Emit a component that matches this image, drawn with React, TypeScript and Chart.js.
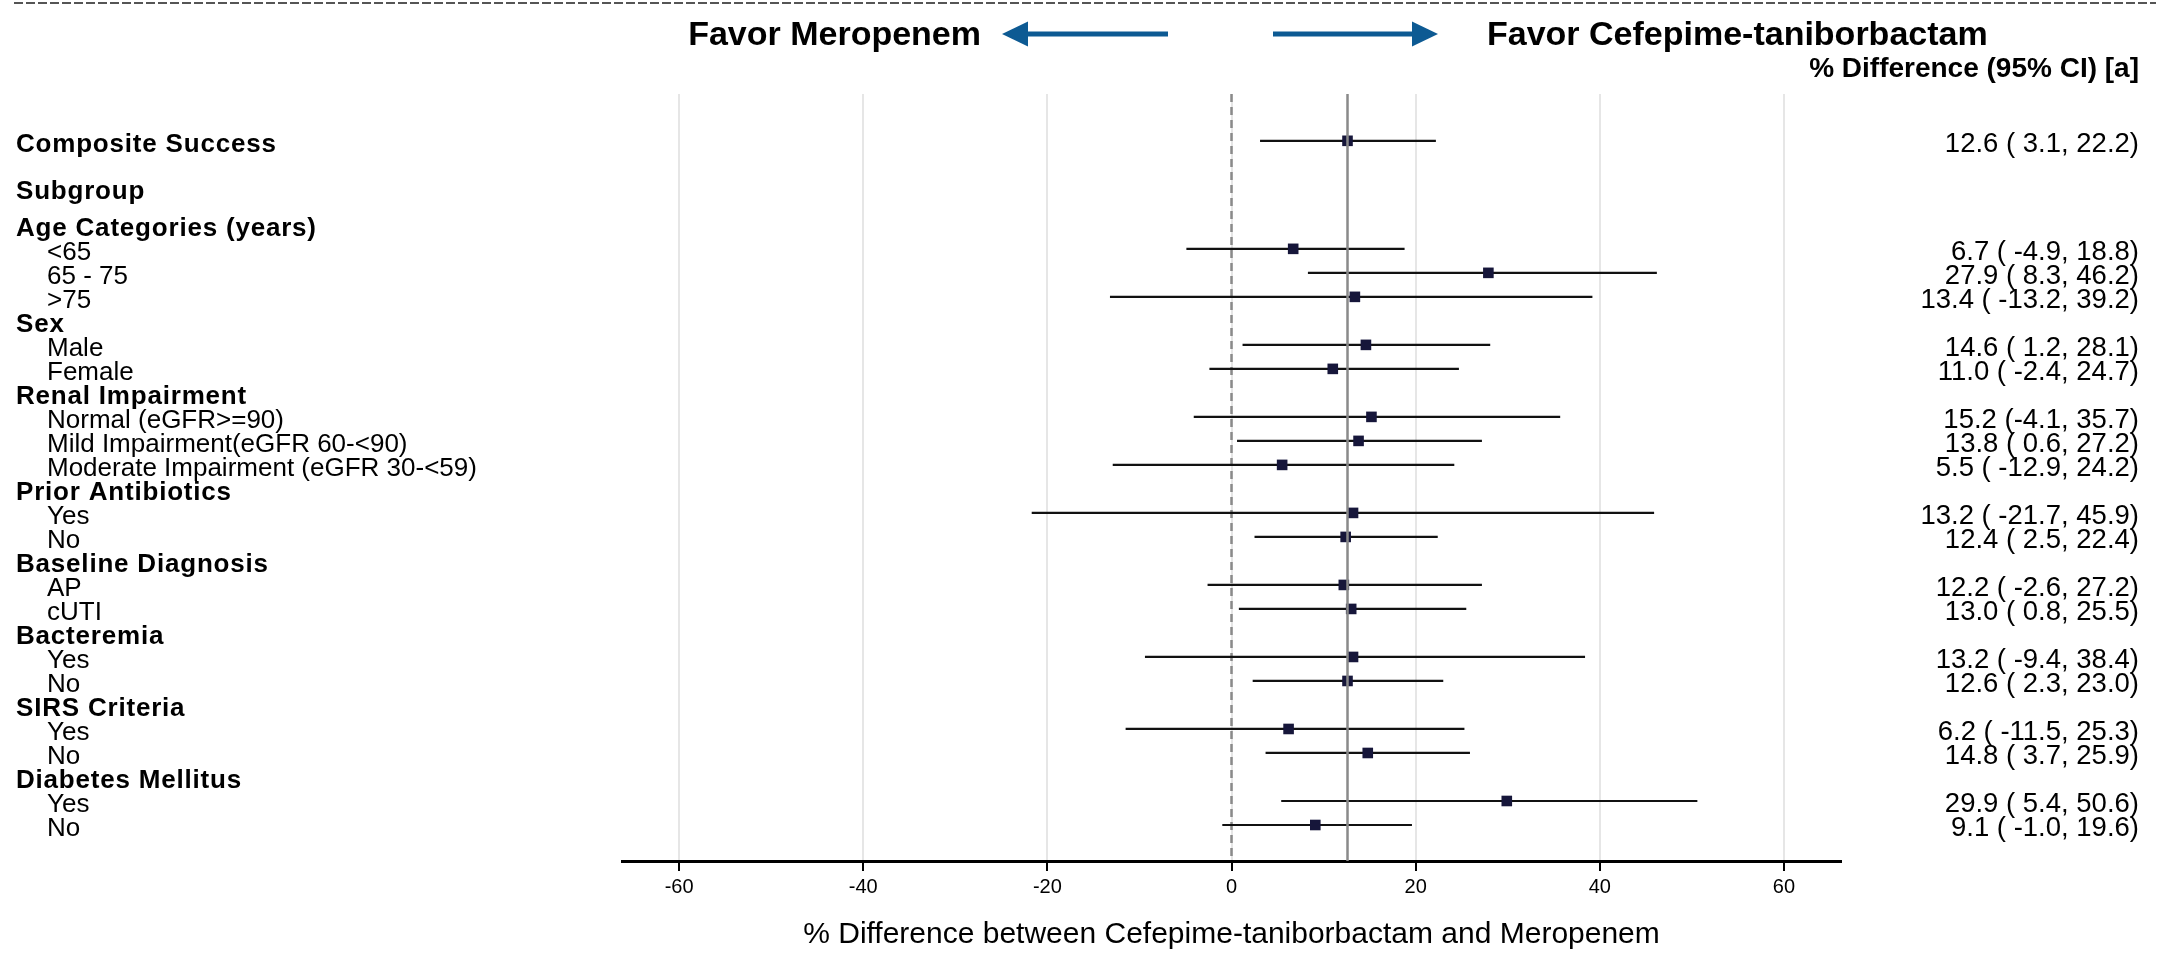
import React, { useEffect, useRef } from 'react';
import { Chart, registerables } from 'chart.js';

Chart.register(...registerables);

// ---------------- data ----------------
const rowLabels = [
  'Composite Success', 'Subgroup', 'Age Categories (years)', '<65', '65 - 75', '>75',
  'Sex', 'Male', 'Female', 'Renal Impairment', 'Normal (eGFR>=90)',
  'Mild Impairment(eGFR 60-<90)', 'Moderate Impairment (eGFR 30-<59)',
  'Prior Antibiotics', 'Yes', 'No', 'Baseline Diagnosis', 'AP', 'cUTI',
  'Bacteremia', 'Yes', 'No', 'SIRS Criteria', 'Yes', 'No',
  'Diabetes Mellitus', 'Yes', 'No',
];
const rowIsHeader = [
  true, true, true, false, false, false,
  true, false, false, true, false, false, false,
  true, false, false, true, false, false,
  true, false, false, true, false, false,
  true, false, false,
];
// position of each row on the (reversed) category axis
const rowPositions = [
  -3.5, -1.55, 0, 1, 2, 3, 4, 5, 6, 7, 8, 9, 10, 11, 12, 13, 14, 15, 16, 17, 18, 19, 20, 21, 22, 23, 24, 25,
];
const estimates = [
  12.6, null, null, 6.7, 27.9, 13.4, null, 14.6, 11.0, null, 15.2, 13.8, 5.5,
  null, 13.2, 12.4, null, 12.2, 13.0, null, 13.2, 12.6, null, 6.2, 14.8, null, 29.9, 9.1,
];
const lowerCI = [
  3.1, null, null, -4.9, 8.3, -13.2, null, 1.2, -2.4, null, -4.1, 0.6, -12.9,
  null, -21.7, 2.5, null, -2.6, 0.8, null, -9.4, 2.3, null, -11.5, 3.7, null, 5.4, -1.0,
];
const upperCI = [
  22.2, null, null, 18.8, 46.2, 39.2, null, 28.1, 24.7, null, 35.7, 27.2, 24.2,
  null, 45.9, 22.4, null, 27.2, 25.5, null, 38.4, 23.0, null, 25.3, 25.9, null, 50.6, 19.6,
];
const ciLabels = [
  '12.6 ( 3.1, 22.2)', '', '', '6.7 ( -4.9, 18.8)', '27.9 ( 8.3, 46.2)', '13.4 ( -13.2, 39.2)',
  '', '14.6 ( 1.2, 28.1)', '11.0 ( -2.4, 24.7)', '', '15.2 (-4.1, 35.7)', '13.8 ( 0.6, 27.2)',
  '5.5 ( -12.9, 24.2)', '', '13.2 ( -21.7, 45.9)', '12.4 ( 2.5, 22.4)', '', '12.2 ( -2.6, 27.2)',
  '13.0 ( 0.8, 25.5)', '', '13.2 ( -9.4, 38.4)', '12.6 ( 2.3, 23.0)', '', '6.2 ( -11.5, 25.3)',
  '14.8 ( 3.7, 25.9)', '', '29.9 ( 5.4, 50.6)', '9.1 ( -1.0, 19.6)',
];
const xTickValues = [-60, -40, -20, 0, 20, 40, 60];
const xMin = -66.2;
const xMax = 66.2;
const yMin = -5.45;
const yMax = 26.5;
const overallEstimate = 12.6;
const nullEffect = 0;

const leftHeaderText = 'Favor Meropenem';
const rightHeaderText = 'Favor Cefepime-taniborbactam';
const columnHeaderText = '% Difference (95% CI) [a]';
const xTitleText = '% Difference between Cefepime-taniborbactam and Meropenem';

const FONT = '"Liberation Sans", Arial, Helvetica, sans-serif';
const ARROW_COLOR = '#0d5a93';

function drawArrow(ctx: CanvasRenderingContext2D, tail: number, tip: number, y: number) {
  const dir = Math.sign(tip - tail);
  const headLen = 26;
  const headHalf = 12.5;
  const shaft = 5;
  ctx.fillStyle = ARROW_COLOR;
  const back = tip - dir * headLen;
  ctx.fillRect(Math.min(tail, back), y - shaft / 2, Math.abs(back - tail), shaft);
  ctx.beginPath();
  ctx.moveTo(tip, y);
  ctx.lineTo(back, y - headHalf);
  ctx.lineTo(back, y + headHalf);
  ctx.closePath();
  ctx.fill();
}

const textPlugin = {
  id: 'forestText',
  afterDraw(chart: any) {
    const { ctx } = chart;
    const yScale = chart.scales.y;
    ctx.save();

    // top dashed rule
    ctx.strokeStyle = '#555';
    ctx.lineWidth = 2;
    ctx.setLineDash([9, 3]);
    ctx.beginPath();
    ctx.moveTo(14, 3);
    ctx.lineTo(2156, 3);
    ctx.stroke();
    ctx.setLineDash([]);

    // favour headers
    ctx.fillStyle = '#000';
    ctx.font = `bold 34px ${FONT}`;
    ctx.textBaseline = 'alphabetic';
    ctx.textAlign = 'right';
    ctx.fillText(leftHeaderText, 981, 45);
    ctx.textAlign = 'left';
    ctx.fillText(rightHeaderText, 1487, 45);
    drawArrow(ctx, 1168, 1002, 34);
    drawArrow(ctx, 1273, 1438, 34);

    // column header
    ctx.fillStyle = '#000';
    ctx.font = `bold 28px ${FONT}`;
    ctx.textAlign = 'right';
    ctx.fillText(columnHeaderText, 2139, 77);

    // row labels and CI text
    for (let i = 0; i < rowLabels.length; i++) {
      const py = yScale.getPixelForValue(rowPositions[i]) + 11.5;
      ctx.textAlign = 'left';
      if (rowIsHeader[i]) {
        ctx.font = `bold 26px ${FONT}`;
        (ctx as any).letterSpacing = '0.8px';
        ctx.fillText(rowLabels[i], 16, py);
        (ctx as any).letterSpacing = '0px';
      } else {
        ctx.font = `26px ${FONT}`;
        ctx.fillText(rowLabels[i], 47, py);
      }
      if (ciLabels[i]) {
        ctx.font = `27.5px ${FONT}`;
        ctx.textAlign = 'right';
        ctx.fillText(ciLabels[i], 2139, py);
      }
    }
    ctx.restore();
  },
};

export default function App() {
  const ref = useRef<HTMLCanvasElement>(null);

  useEffect(() => {
    document.body.style.margin = '0';
    const canvas = ref.current;
    if (!canvas) return;

    const ciDatasets: any[] = [];
    const markerData: any[] = [];
    for (let i = 0; i < rowLabels.length; i++) {
      if (estimates[i] === null) continue;
      ciDatasets.push({
        label: `ci-${i}`,
        data: [
          { x: lowerCI[i], y: rowPositions[i] },
          { x: upperCI[i], y: rowPositions[i] },
        ],
        showLine: true,
        borderColor: '#111',
        borderWidth: 2.2,
        pointRadius: 0,
        order: 2,
      });
      markerData.push({ x: estimates[i], y: rowPositions[i] });
    }

    const chart = new Chart(canvas, {
      type: 'scatter',
      data: {
        datasets: [
          {
            label: 'overall',
            data: [
              { x: overallEstimate, y: yMin },
              { x: overallEstimate, y: yMax },
            ],
            showLine: true,
            borderColor: '#8a8a8a',
            borderWidth: 2.5,
            pointRadius: 0,
            order: 0,
          },
          {
            label: 'estimate',
            data: markerData,
            pointStyle: 'rect',
            pointRadius: 7.5,
            backgroundColor: '#16163a',
            borderColor: '#16163a',
            borderWidth: 0,
            order: 1,
          },
          ...ciDatasets,
          {
            label: 'null',
            data: [
              { x: nullEffect, y: yMin },
              { x: nullEffect, y: yMax },
            ],
            showLine: true,
            borderColor: '#8a8a8a',
            borderWidth: 2.5,
            borderDash: [8, 5],
            pointRadius: 0,
            order: 3,
          },
        ],
      },
      options: {
        responsive: false,
        animation: false,
        devicePixelRatio: 1,
        layout: { padding: { left: 622, right: 326, top: 94, bottom: 0 } },
        plugins: {
          legend: { display: false },
          tooltip: { enabled: false },
        },
        scales: {
          x: {
            type: 'linear',
            position: 'bottom',
            min: xMin,
            max: xMax,
            afterBuildTicks: (scale: any) => {
              scale.ticks = xTickValues.map((v) => ({ value: v }));
            },
            afterFit: (scale: any) => {
              scale.height = 93;
            },
            grid: {
              color: '#e6e6e6',
              lineWidth: 2,
              drawTicks: true,
              tickLength: 10,
              tickWidth: 2,
              tickColor: '#000',
            },
            border: { display: true, color: '#000', width: 3 },
            ticks: {
              color: '#000',
              font: { family: FONT, size: 20 },
              padding: 4,
              maxRotation: 0,
              autoSkip: false,
            },
            title: {
              display: true,
              text: xTitleText,
              color: '#000',
              font: { family: FONT, size: 30 },
              padding: { top: 0, bottom: 1 },
            },
          },
          y: {
            type: 'linear',
            display: false,
            reverse: true,
            min: yMin,
            max: yMax,
          },
        },
      },
      plugins: [textPlugin],
    } as any);

    return () => chart.destroy();
  }, []);

  return <canvas ref={ref} width={2167} height={954} style={{ display: 'block' }} />;
}
